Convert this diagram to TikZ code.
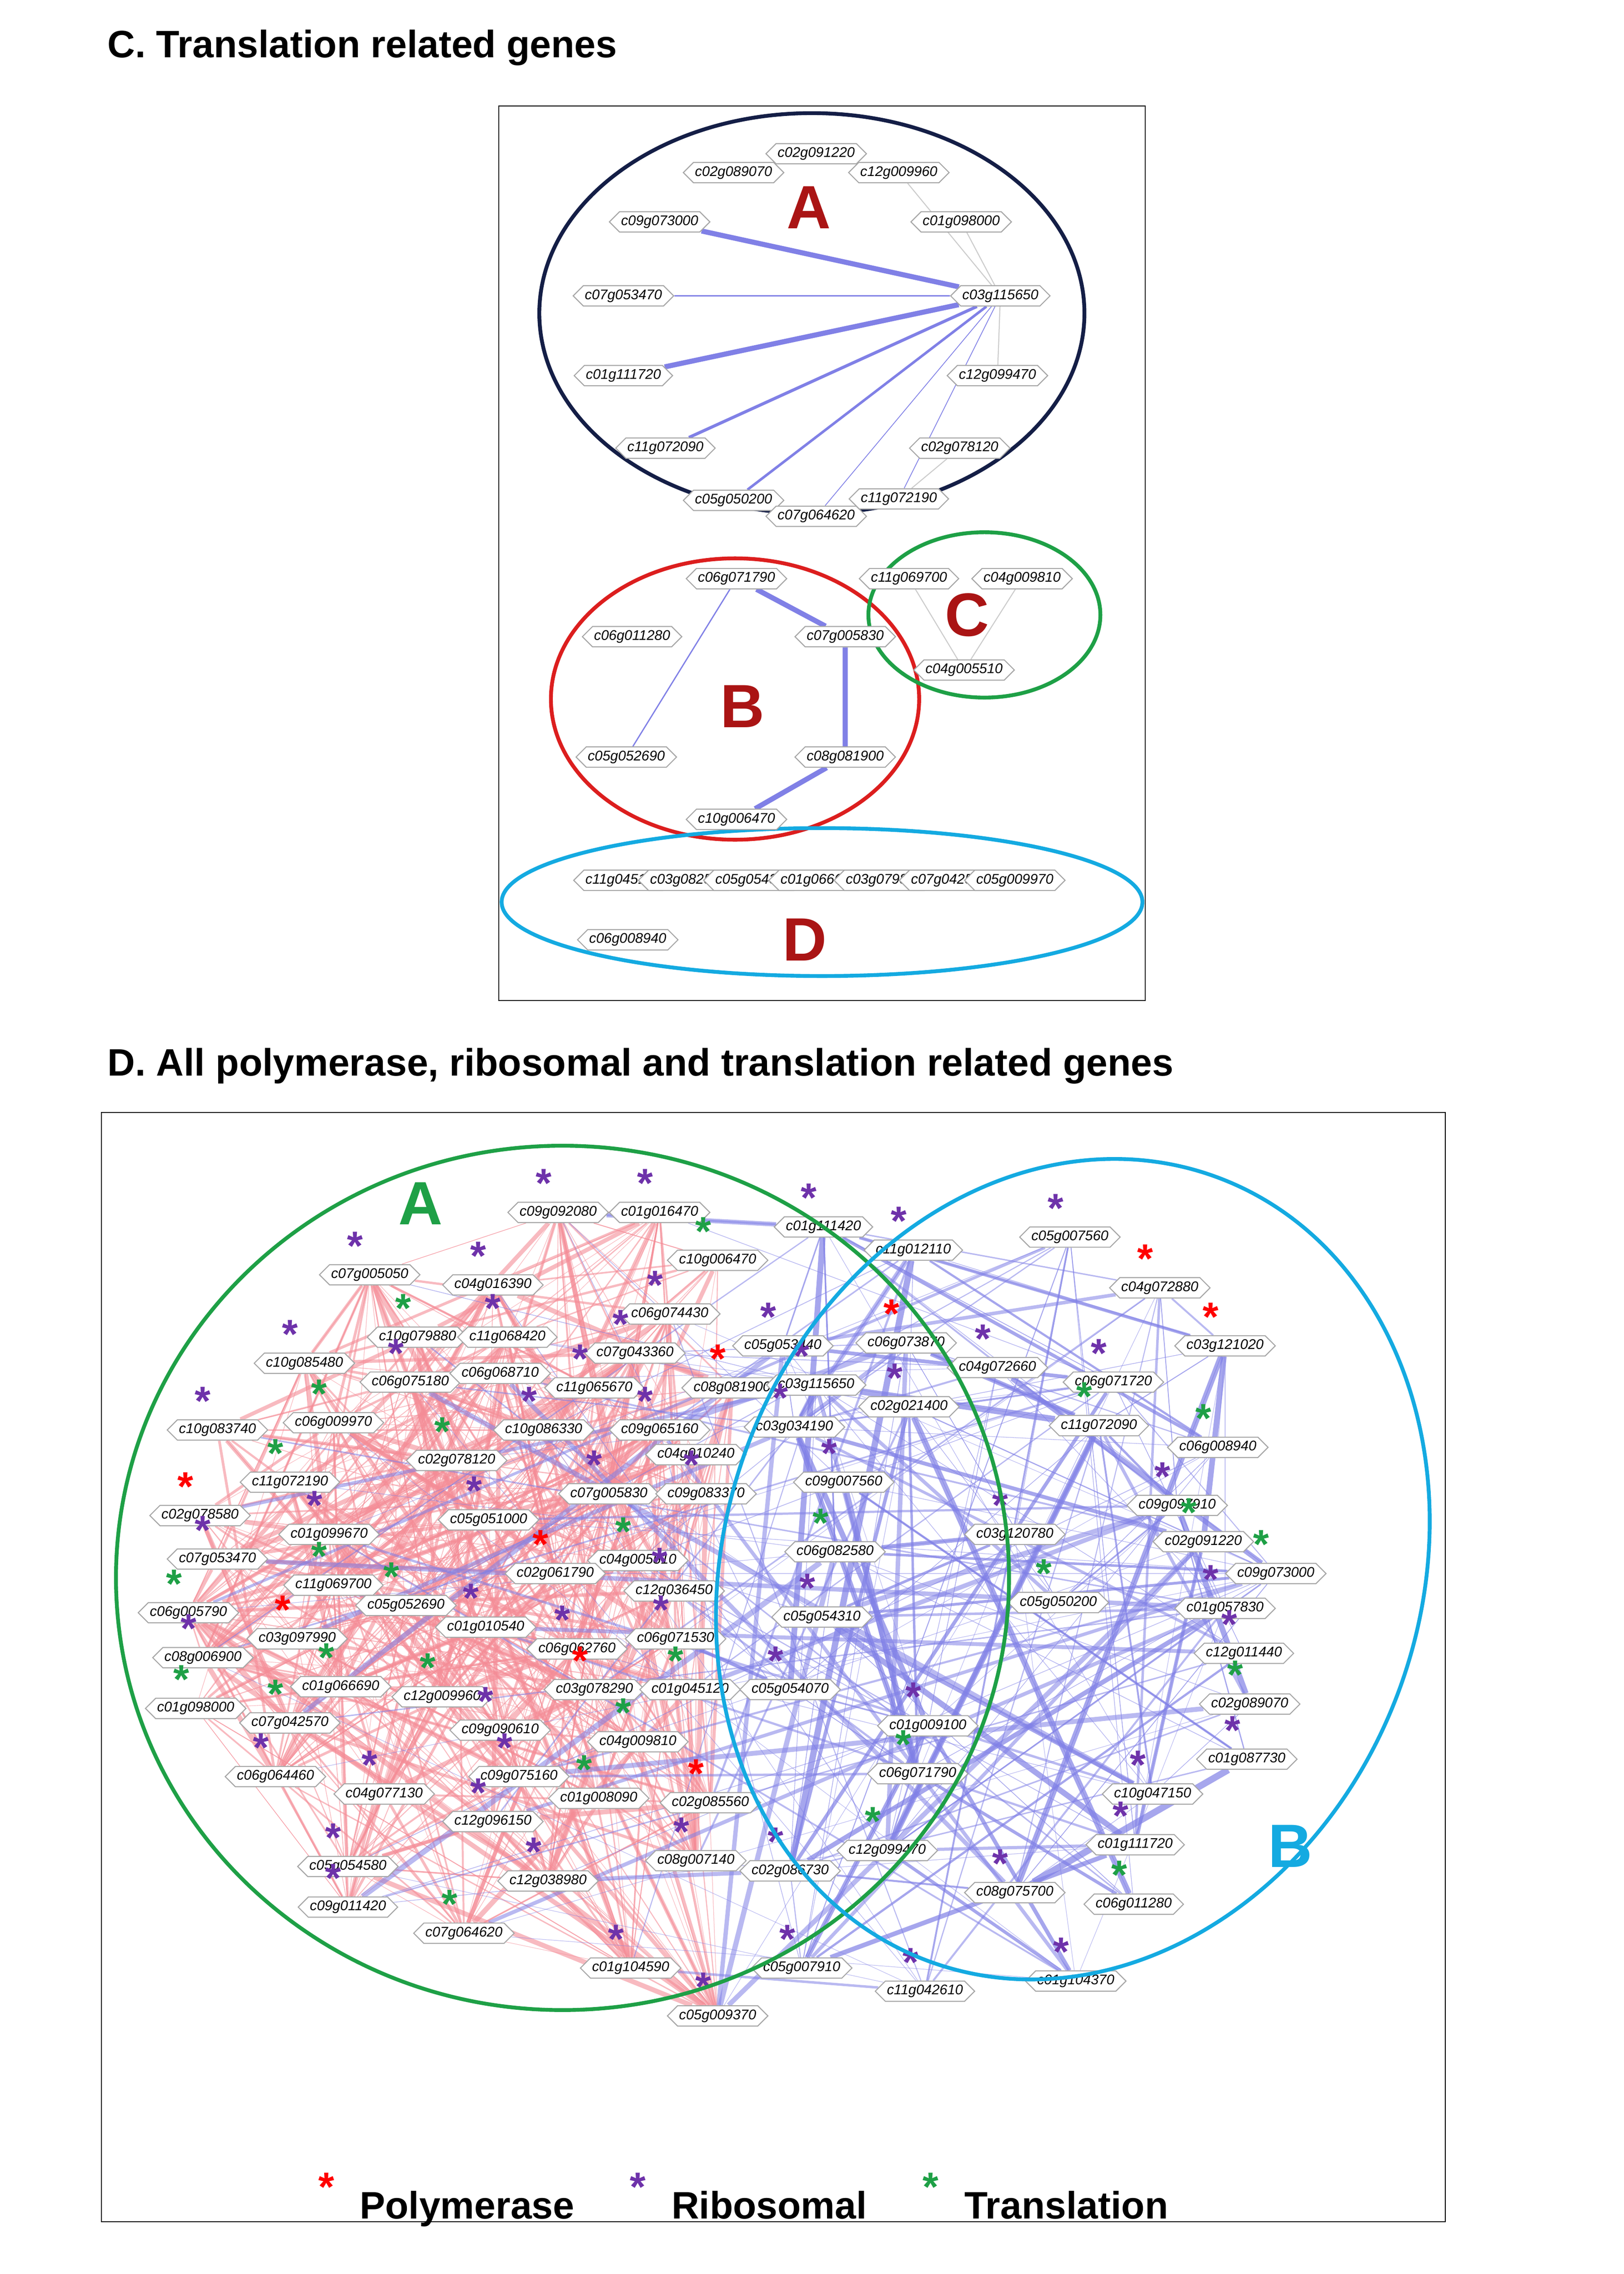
\documentclass[tikz,border=0pt]{standalone}
\usepackage{fontspec}
\setmainfont{Liberation Sans}
\usetikzlibrary{shapes.symbols,backgrounds}
\definecolor{navy}{RGB}{20,30,70}
\definecolor{darkred}{RGB}{170,20,20}
\definecolor{ringred}{RGB}{220,30,30}
\definecolor{ringgreen}{RGB}{30,160,70}
\definecolor{ringblue}{RGB}{20,170,225}
\definecolor{edgeblue}{RGB}{128,128,230}
\definecolor{edgepink}{RGB}{244,140,150}
\definecolor{starP}{RGB}{110,50,170}
\tikzset{
  gene/.style={signal, signal to=east and west, draw=gray!70, fill=white, inner sep=0.6pt,
    minimum height=0.28cm, minimum width=1.35cm, font=\fontsize{5.5}{5.5}\selectfont\itshape},
  star/.style={font=\fontsize{16}{16}\selectfont\bfseries, inner sep=0pt},
  st-R/.style={text=red}, st-P/.style={text=starP}, st-G/.style={text=ringgreen}, st-N/.style={text opacity=0},
  tw/.style={edgeblue, line width=0.5pt},
  tk/.style={edgeblue, line width=2pt},
  tg/.style={gray!40, line width=0.4pt},
  title/.style={anchor=west, font=\fontsize{15}{15}\selectfont\bfseries},
  legend/.style={anchor=base west, font=\fontsize{15}{15}\selectfont\bfseries},
  big/.style={font=\fontsize{24}{24}\selectfont\bfseries}
}
\begin{document}
\begin{tikzpicture}[x=0.02cm, y=-0.02cm]
\useasboundingbox (0,0) rectangle (1120,1568);

%panel C
\node[title] (titleC) at (68,33) {C. Translation related genes};
\draw (344,73) rectangle (790,690);
\draw[navy, line width=1.5pt] (560,216) ellipse (188 and 138);
\draw[ringred, line width=1.5pt] (507,482) ellipse (127 and 97);
\draw[ringgreen, line width=1.5pt] (679,424) ellipse (80 and 57);
\draw[ringblue, line width=1.5pt] (567,622) ellipse (221 and 51);

%nodes
\node[gene] (a1) at (563,106) {c02g091220};
\node[gene] (a2) at (506,119) {c02g089070};
\node[gene] (a3) at (620,119) {c12g009960};
\node[gene] (a4) at (455,153) {c09g073000};
\node[gene] (a5) at (663,153) {c01g098000};
\node[gene] (a6) at (430,204) {c07g053470};
\node[gene] (a7) at (690,204) {c03g115650};
\node[gene] (a8) at (430,259) {c01g111720};
\node[gene] (a9) at (688,259) {c12g099470};
\node[gene] (a10) at (459,309) {c11g072090};
\node[gene] (a11) at (662,309) {c02g078120};
\node[gene] (a12) at (506,345) {c05g050200};
\node[gene] (a13) at (563,356) {c07g064620};
\node[gene] (a14) at (620,344) {c11g072190};
\node[gene] (b1) at (508,399) {c06g071790};
\node[gene] (b2) at (436,439) {c06g011280};
\node[gene] (b3) at (583,439) {c07g005830};
\node[gene] (b4) at (432,522) {c05g052690};
\node[gene] (b5) at (583,522) {c08g081900};
\node[gene] (b6) at (508,565) {c10g006470};
\node[gene] (k1) at (627,399) {c11g069700};
\node[gene] (k2) at (705,399) {c04g009810};
\node[gene] (k3) at (665,462) {c04g005510};
\node[gene] (s1) at (430,607) {c11g045120};
\node[gene] (s2) at (475,607) {c03g082580};
\node[gene] (s3) at (520,607) {c05g054310};
\node[gene] (s4) at (565,607) {c01g066690};
\node[gene] (s5) at (610,607) {c03g079880};
\node[gene] (s6) at (655,607) {c07g042570};
\node[gene] (s7) at (700,607) {c05g009970};
\node[gene] (s8) at (433,648) {c06g008940};
\node[big, darkred] (labA) at (558,143) {A};
\node[big, darkred] (labB) at (512,487) {B};
\node[big, darkred] (labC) at (667,424) {C};
\node[big, darkred] (labD) at (555,648) {D};

%edges
\begin{scope}[on background layer]
\draw[tk] (a7) -- (a4);
\draw[tw] (a7) -- (a6);
\draw[tk] (a7) -- (a8);
\draw[tk, line width=1.2pt] (a7) -- (a10);
\draw[tw, line width=1pt] (a7) -- (a12);
\draw[tw, line width=0.3pt] (a7) -- (a13);
\draw[tw, line width=0.3pt] (a7) -- (a14);
\draw[tg] (a7) -- (a3);
\draw[tg] (a7) -- (a5);
\draw[tg] (a7) -- (a9);
\draw[tg] (a11) -- (a14);
\draw[tk] (b1) -- (b3);
\draw[tw] (b1) -- (b4);
\draw[tk] (b3) -- (b5);
\draw[tk] (b5) -- (b6);
\draw[tg] (k1) -- (k3);
\draw[tg] (k2) -- (k3);
\end{scope}

%panel D
\node[title] (titleD) at (68,735) {D. All polymerase, ribosomal and translation related genes};
\draw (70,767) rectangle (997,1532);
\foreach \x/\y/\t/\s [count=\i] in {
 385/836/c09g092080/P, 455/836/c01g016470/P, 255/879/c07g005050/P, 340/886/c04g016390/P,
 495/869/c10g006470/G, 462/906/c06g074430/P, 288/922/c10g079880/G, 350/922/c11g068420/P,
 438/933/c07g043360/P, 210/940/c10g085480/P, 283/953/c06g075180/P, 345/947/c06g068710/N,
 410/957/c11g065670/P, 505/957/c08g081900/R, 150/986/c10g083740/P, 230/981/c06g009970/G,
 375/986/c10g086330/P, 455/986/c09g065160/P, 480/1003/c04g010240/N, 200/1022/c11g072190/G,
 315/1007/c02g078120/G, 420/1030/c07g005830/P, 487/1030/c09g083370/P, 138/1045/c02g078580/R,
 227/1058/c01g099670/P, 337/1048/c05g051000/P, 150/1075/c07g053470/P, 440/1076/c04g005510/G,
 230/1093/c11g069700/G, 383/1085/c02g061790/R, 465/1097/c12g036450/P, 130/1112/c06g005790/G,
 280/1107/c05g052690/G, 205/1130/c03g097990/R, 335/1122/c01g010540/P, 466/1130/c06g071530/P,
 140/1143/c08g006900/P, 398/1137/c06g062760/P, 235/1163/c01g066690/G, 305/1170/c12g009960/G,
 410/1165/c03g078290/R, 476/1165/c01g045120/G, 135/1178/c01g098000/G, 200/1188/c07g042570/G,
 345/1193/c09g090610/P, 440/1201/c04g009810/G, 190/1225/c06g064460/P, 265/1237/c04g077130/P,
 358/1225/c09g075160/P, 413/1240/c01g008090/G, 490/1243/c02g085560/R, 340/1256/c12g096150/P,
 240/1287/c05g054580/P, 378/1297/c12g038980/P, 480/1283/c08g007140/P, 240/1315/c09g011420/P,
 320/1333/c07g064620/G, 435/1357/c01g104590/P, 495/1390/c05g009370/P,
 568/846/c01g111420/P, 630/862/c11g012110/P, 738/853/c05g007560/P, 800/888/c04g072880/R,
 625/926/c06g073870/R, 845/928/c03g121020/R, 540/928/c05g053440/P, 688/943/c04g072660/P,
 563/955/c03g115650/P, 768/953/c06g071720/P, 627/970/c02g021400/P, 548/984/c03g034190/P,
 758/983/c11g072090/G, 840/998/c06g008940/G, 582/1022/c09g007560/P, 812/1038/c09g097910/P,
 700/1058/c03g120780/P, 830/1063/c02g091220/G, 576/1070/c06g082580/G, 880/1085/c09g073000/G,
 567/1115/c05g054310/P, 730/1105/c05g050200/G, 845/1109/c01g057830/P, 858/1140/c12g011440/P,
 545/1165/c05g054070/P, 862/1175/c02g089070/G, 640/1190/c01g009100/P, 860/1213/c01g087730/P,
 633/1223/c06g071790/G, 795/1237/c10g047150/P, 612/1276/c12g099470/G, 783/1272/c01g111720/P,
 545/1290/c02g086730/P, 700/1305/c08g075700/P, 782/1313/c06g011280/G, 553/1357/c05g007910/P,
 638/1373/c11g042610/P, 742/1366/c01g104370/P}
{
  \node[gene] (d\i) at (\x,\y) {\t};
  \node[star, st-\s] (st\i) at (\x-10,\y-20) {*};
}
\begin{scope}[on background layer]
\pgfmathsetseed{42}
\foreach \k in {1,...,560} {
  \pgfmathtruncatemacro\a{random(1,59)}
  \pgfmathtruncatemacro\b{random(1,59)}
  \pgfmathsetmacro\w{0.2+1.8*rnd^3}
  \draw[edgepink, opacity=0.6, line width=\w pt] (d\a) -- (d\b);
}
\foreach \k in {1,...,90} {
  \pgfmathtruncatemacro\a{random(60,97)}
  \pgfmathtruncatemacro\b{random(60,97)}
  \pgfmathsetmacro\w{0.2+2.4*rnd^3}
  \draw[edgeblue, opacity=0.7, line width=\w pt] (d\a) -- (d\b);
}
\foreach \k in {1,...,150} {
  \pgfmathtruncatemacro\a{random(60,97)}
  \pgfmathtruncatemacro\b{random(1,97)}
  \pgfmathsetmacro\w{0.2+2*rnd^3}
  \draw[edgeblue, opacity=0.55, line width=\w pt] (d\a) -- (d\b);
}
\end{scope}
\draw[ringgreen, line width=1.5pt] (388,1088) ellipse (308 and 298);
\draw[ringblue, line width=1.5pt, rotate around={-20:(740,1082)}] (740,1082) ellipse (240 and 288);
\node[big, ringgreen] (labDA) at (290,830) {A};
\node[big, ringblue] (labDB) at (890,1273) {B};

%legend
\node[star, red] (kR) at (225,1508) {*};
\node[legend] (tR) at (242,1530) {Polymerase};
\node[star, starP] (kP) at (440,1508) {*};
\node[legend] (tP) at (457,1530) {Ribosomal};
\node[star, ringgreen] (kG) at (642,1508) {*};
\node[legend] (tG) at (659,1530) {Translation};
\end{tikzpicture}
\end{document}
